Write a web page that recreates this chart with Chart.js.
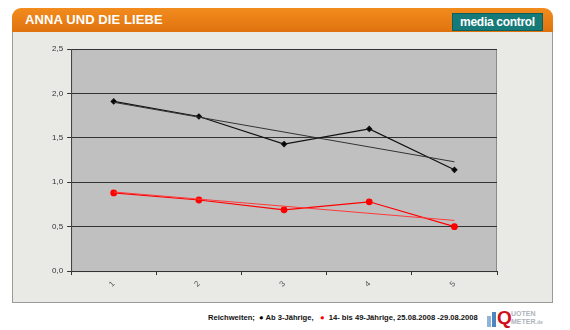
<!DOCTYPE html>
<html>
<head>
<meta charset="utf-8">
<script src="https://cdn.jsdelivr.net/npm/chart.js@4"></script>
<style>
    body { margin: 0; background: #fff; font-family: "Liberation Sans", Arial, sans-serif; }
    #wrap { position: relative; width: 570px; height: 330px; overflow: hidden; }
    #header {
        position: absolute; left: 12px; top: 8px; width: 541px; height: 24px;
        background: linear-gradient(#f28c1e, #e0720e);
        border-radius: 9px 9px 0 0;
    }
    #title { position: absolute; left: 13px; top: 4px; color: #fff; font-weight: bold; font-size: 13px; letter-spacing: 0.1px; }
    #mc {
        position: absolute; left: 440px; top: 5px; width: 89px; height: 16px;
        background: #167a78; color: #fff; font-weight: bold; font-size: 12px; line-height: 16px;
        text-align: center; letter-spacing: -0.3px; border: 1px solid #0d5f5d;
    }
    #panel {
        position: absolute; left: 12px; top: 32px; width: 539px; height: 270px;
        background: #e9e9e6; border: 1px solid #9a9a9a; border-top: none;
    }
    #footer { position: absolute; left: 208px; top: 313px; font-size: 7.6px; font-weight: bold; color: #111; white-space: nowrap; }
    #qm { position: absolute; left: 487px; top: 308px; width: 60px; height: 20px; }
    canvas { position: absolute; left: 0; top: 0; }
</style>
</head>
<body>
<div id="wrap">
    <div id="header">
        <div id="title">ANNA UND DIE LIEBE</div>
        <div id="mc">media control</div>
    </div>
    <div id="panel"></div>
    <div id="footer">Reichweiten;&nbsp; <span style="color:#000">&#9679;</span> Ab 3-Jährige, &nbsp; <span style="color:#f00">&#9679;</span>&nbsp; 14- bis 49-Jährige, 25.08.2008 -29.08.2008</div>
    <div id="qm">
        <div style="position:absolute;left:0;top:8px;width:4px;height:11px;background:#8fb4d6"></div>
        <div style="position:absolute;left:5px;top:4px;width:4px;height:15px;background:#4f86bf"></div>
        <div style="position:absolute;left:10px;top:1px;width:12px;height:18px;color:#d0101a;font:bold 19px/18px 'Liberation Sans';">Q</div>
        <div style="position:absolute;left:24px;top:2px;color:#b0b4bc;font:bold 7px/8px 'Liberation Sans';">UOTEN<br>METER<span style="font-size:5px">.de</span></div>
    </div>
    <canvas id="chart" width="570" height="330"></canvas>
</div>
<script>
const categories = ['1', '2', '3', '4', '5'];
const ab3Values = [1.91, 1.74, 1.43, 1.60, 1.14];
const age1449Values = [0.88, 0.80, 0.69, 0.78, 0.50];
// Trendlinien, Endpunkte
const ab3Trend = [1.90, null, null, null, 1.23];
const age1449Trend = [0.89, null, null, null, 0.57];
const yTicks = [0, 0.5, 1.0, 1.5, 2.0, 2.5];

const plotBackground = {
    id: 'plotBackground',
    beforeDraw(chart) {
        const { ctx, chartArea } = chart;
        ctx.save();
        ctx.fillStyle = '#c0c0c0';
        ctx.fillRect(chartArea.left, chartArea.top, chartArea.right - chartArea.left, chartArea.bottom - chartArea.top);
        ctx.strokeStyle = '#8a8a8a';
        ctx.lineWidth = 1;
        ctx.strokeRect(chartArea.left + 0.5, chartArea.top + 0.5, chartArea.right - chartArea.left - 1, chartArea.bottom - chartArea.top);
        ctx.restore();
    }
};

new Chart(document.getElementById('chart'), {
    type: 'line',
    data: {
        labels: categories,
        datasets: [
            {
                label: 'Ab 3-Jährige Trend',
                data: ab3Trend,
                spanGaps: true,
                borderColor: '#333',
                borderWidth: 1,
                pointRadius: 0,
                tension: 0
            },
            {
                label: '14- bis 49-Jährige Trend',
                data: age1449Trend,
                spanGaps: true,
                borderColor: '#ff3a3a',
                borderWidth: 1,
                pointRadius: 0,
                tension: 0
            },
            {
                label: 'Ab 3-Jährige',
                data: ab3Values,
                borderColor: '#111',
                backgroundColor: '#000',
                borderWidth: 1.2,
                pointStyle: 'rectRot',
                pointRadius: 2.5,
                tension: 0
            },
            {
                label: '14- bis 49-Jährige',
                data: age1449Values,
                borderColor: '#f00',
                backgroundColor: '#f00',
                borderWidth: 1.2,
                pointStyle: 'circle',
                pointRadius: 2.8,
                tension: 0
            }
        ]
    },
    options: {
        responsive: false,
        animation: false,
        layout: { padding: { left: 48, right: 73, top: 49, bottom: 37 } },
        scales: {
            x: {
                offset: true,
                grid: { display: true, drawOnChartArea: false, offset: true, color: '#333', tickLength: 4 },
                border: { color: '#333', width: 1 },
                ticks: {
                    color: '#555',
                    font: { size: 8, family: 'Liberation Sans' },
                    minRotation: 45,
                    maxRotation: 45,
                    padding: 4
                }
            },
            y: {
                min: 0,
                max: 2.5,
                afterBuildTicks(axis) { axis.ticks = yTicks.map(v => ({ value: v })); },
                grid: { color: '#333', lineWidth: 1, tickLength: 4 },
                border: { color: '#444', width: 1 },
                ticks: {
                    color: '#333',
                    font: { size: 8, family: 'Liberation Sans' },
                    padding: 4,
                    callback: v => v.toFixed(1).replace('.', ',')
                }
            }
        },
        plugins: {
            legend: { display: false },
            tooltip: { enabled: false }
        }
    },
    plugins: [plotBackground]
});
</script>
</body>
</html>
